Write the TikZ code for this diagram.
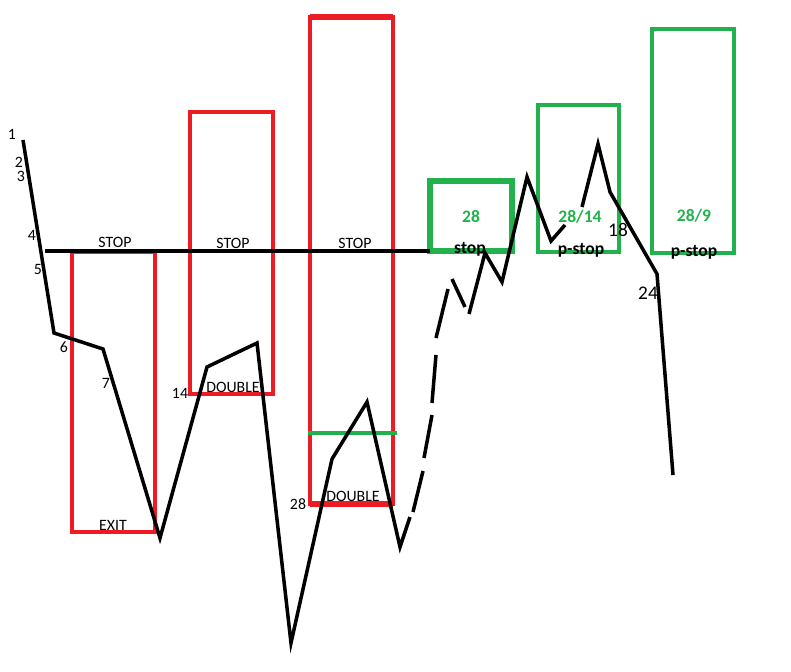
\documentclass[tikz,border=0pt]{standalone}
\usepackage{fontspec}
\setmainfont{Carlito}
\usetikzlibrary{positioning}
\definecolor{paintred}{RGB}{237,28,36}
\definecolor{paintgreen}{RGB}{34,177,76}

\begin{document}
\begin{tikzpicture}[
    x=0.02cm, y=-0.02cm,
    redbox/.style={draw=paintred, line width=2pt},
    greenbox/.style={draw=paintgreen, line width=2pt},
    price/.style={draw=black, line width=2pt},
    lbl/.style={font=\fontsize{9}{10}\selectfont, inner sep=0pt},
    bignum/.style={font=\fontsize{11}{12}\selectfont, inner sep=0pt},
    target/.style={font=\bfseries\fontsize{10}{11}\selectfont, text=paintgreen, inner sep=0pt},
    stoptag/.style={font=\bfseries\fontsize{10}{11}\selectfont, inner sep=0pt}
]
    \useasboundingbox (0,0) rectangle (791,672);

    % Red boxes
    \draw[redbox] (72,252) coordinate (exitTL) rectangle (155,532) coordinate (exitBR);
    \draw[redbox] (190,112) coordinate (dblaTL) rectangle (273,394) coordinate (dblaBR);
    \draw[redbox] (310,17) coordinate (dblbTL) rectangle (393,504) coordinate (dblbBR);
    \draw[paintred, line width=3pt] (dblbTL) -- (dblbTL -| dblbBR);
    \draw[paintred, line width=3pt] (dblbBR -| dblbTL) -- (dblbBR);
    \draw[paintgreen, line width=2.4pt] (308,433) coordinate (lvlA) -- (397,433) coordinate (lvlB);

    % Green boxes
    \draw[greenbox, line width=3pt] (430,181) coordinate (tpaTL) rectangle (512,251) coordinate (tpaBR);
    \draw[greenbox] (538,105) coordinate (tpbTL) rectangle (619,252) coordinate (tpbBR);
    \draw[greenbox] (652,29) coordinate (tpcTL) rectangle (734,253) coordinate (tpcBR);

    % Stop line
    \draw[price] (45,251) coordinate (stopL) -- (tpaTL |- tpaBR) coordinate (stopR);

    % Price
    \draw[price] (23,140) -- (54,333) -- (103,349) -- (160,538) -- (207,367) -- (257,343)
        -- (291,643) -- (332,459) -- (367,402) -- (400,547) -- (410,517)
        (413,512) -- (423,471)
        (424,458) -- (432,415)
        (432,403) -- (436,355)
        (436,338) -- (448,289)
        (452,279) -- (465,307)
        (469,314) -- (485,253) -- (502,282) -- (527,177) -- (551,241) -- (565,225)
        (582,207) -- (598,144) -- (610,192) -- (657,274) -- (673,475);

    % Labels
    \node[lbl] (s1) at (115,242) {STOP};
    \node[lbl] (s2) at (233,243) {STOP};
    \node[lbl] (s3) at (355,243) {STOP};
    \node[lbl] (ex) at (113,525) {EXIT};
    \node[lbl] (da) at (233,387) {DOUBLE};
    \node[lbl] (db) at (353,496) {DOUBLE};

    \node[lbl] (n1) at (12,134) {1};
    \node[lbl] (n2) at (19,162) {2};
    \node[lbl] (n3) at (21,176) {3};
    \node[lbl] (n4) at (32,235) {4};
    \node[lbl] (n5) at (38,269) {5};
    \node[lbl] (n6) at (64,347) {6};
    \node[lbl] (n7) at (106,383) {7};
    \node[lbl] (n14) at (180,393) {14};
    \node[lbl] (n28) at (298,504) {28};
    \node[bignum] (n18) at (618,230) {18};
    \node[bignum] (n24) at (648,293) {24};

    \node[target] (ta) at (471,217) {28};
    \node[target] (tb) at (580,217) {28/14};
    \node[target] (tc) at (694,216) {28/9};
    \node[stoptag] (pa) at (470,249) {stop};
    \node[stoptag] (pb) at (581,250) {p-stop};
    \node[stoptag] (pc) at (694,252) {p-stop};
\end{tikzpicture}
\end{document}
